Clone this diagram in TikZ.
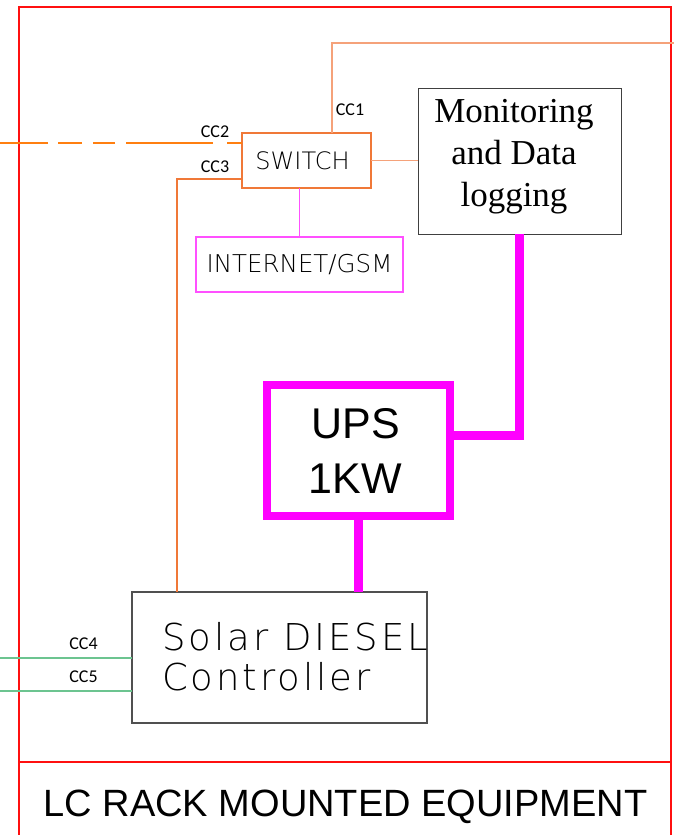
\documentclass[tikz,border=0pt]{standalone}
\usepackage{fontspec}
\usetikzlibrary{calc}
\newfontfamily\arialf{Liberation Sans}
\newfontfamily\timesf{Liberation Serif}
\newfontfamily\calf{Carlito}
\newfontfamily\isof{DejaVu Sans ExtraLight}
\newfontfamily\isofw{DejaVu Sans ExtraLight}[LetterSpace=8]
\definecolor{framered}{HTML}{FF1010}
\definecolor{darkorange}{HTML}{FF7F10}
\definecolor{midorange}{HTML}{F07838}
\definecolor{lightorange}{HTML}{F5A27A}
\definecolor{magline}{HTML}{FF50FF}
\definecolor{magthick}{HTML}{FF00FF}
\definecolor{greenline}{HTML}{6CC490}
\definecolor{boxgray}{HTML}{505050}
\tikzset{
  boxbase/.style={draw, inner sep=0pt, outer sep=0pt, line width=1.2pt},
  isotext/.style={font=\isof\fontsize{#1}{#1}\selectfont},
  isowide/.style={font=\isofw\fontsize{#1}{#1}\selectfont},
  cclabel/.style={font=\calf\fontsize{18}{18}\selectfont, inner sep=0pt, text=black},
  redline/.style={draw=framered, line width=2pt},
  thinorange/.style={draw=lightorange, line width=1.2pt},
  magthickline/.style={draw=magthick, line width=9pt},
}
\begin{document}
\begin{tikzpicture}[x=1pt,y=-1pt]
\useasboundingbox (0,0) rectangle (674,835);
% frame
\draw[redline] (19,835) -- (19,7) -- (671,7) -- (671,835);
\draw[redline] (19,762) -- (671,762);
\node[font=\arialf\fontsize{38}{38}\selectfont, anchor=base, inner sep=0pt] (title) at (345.5,816) {LC RACK MOUNTED EQUIPMENT};

% boxes
\node[boxbase, draw=midorange, minimum width=129pt, minimum height=55pt, isotext=24] (switch) at (306.5,160.5) {SWITCH\kern8pt};
\node[boxbase, draw=magline, minimum width=207pt, minimum height=55pt, isotext=24.5] (internet) at (299.5,264.5) {INTERNET/GSM};
\node[boxbase, draw=boxgray!80!black, line width=1pt, minimum width=203pt, minimum height=146pt] (monitor) at (519.5,161) {};
\node[font=\timesf\fontsize{35}{42}\selectfont, align=center, inner sep=0pt] (montext) at (514,157) {Monitoring\\and Data\\logging};
\node[draw=magthick, line width=8pt, inner sep=0pt, outer sep=0pt, minimum width=183pt, minimum height=131pt, align=center, font=\arialf\fontsize{43}{55}\selectfont] (ups) at (358.5,450.5) {UPS\kern6pt\\1KW\kern6pt};
\node[boxbase, draw=boxgray, minimum width=295pt, minimum height=131pt] (ctrl) at (279.5,657.5) {};
\node[isowide=37, anchor=base west, inner sep=0pt] (ctrl1) at (162,650) {Solar DIESEL};
\node[isowide=37, anchor=base west, inner sep=0pt] (ctrl2) at (162,690) {Controller};

% free ends
\coordinate (cc1end) at (674,43);
\coordinate (cc2end) at (0,142.5);
\coordinate (cc4end) at (0,658);
\coordinate (cc5end) at (0,691);

% connectors
\draw[thinorange] ([xshift=25.5pt]switch.north) |- (cc1end);
\draw[draw=darkorange, line width=2pt, dash pattern=on 15pt off 14pt on 87pt off 11pt on 22pt off 11pt on 24pt off 10pt on 60pt off 1pt] ([yshift=18pt]switch.west) -- (cc2end);
\draw[draw=midorange, line width=1.1pt] ([yshift=-18.5pt]switch.west) -| ([xshift=-102.5pt]ctrl.north);
\draw[thinorange, line width=1.5pt] (switch.east) -- (switch.east -| monitor.west);
\draw[draw=magline, line width=1.5pt] (internet.north) -- (internet.north |- switch.south);
\draw[magthickline] (monitor.south) |- ([yshift=15.5pt]ups.east);
\draw[magthickline] (ups.south) -- (ups.south |- ctrl.north);
\draw[draw=greenline, line width=1.5pt] (ctrl.west |- cc4end) -- (cc4end);
\draw[draw=greenline, line width=1.5pt] (ctrl.west |- cc5end) -- (cc5end);

% labels
\node[cclabel] (lcc1) at (350,110) {CC1};
\node[cclabel] (lcc2) at (215,131.5) {CC2};
\node[cclabel] (lcc3) at (215,166.5) {CC3};
\node[cclabel] (lcc4) at (83.5,644) {CC4};
\node[cclabel] (lcc5) at (83.5,677) {CC5};
\end{tikzpicture}
\end{document}
